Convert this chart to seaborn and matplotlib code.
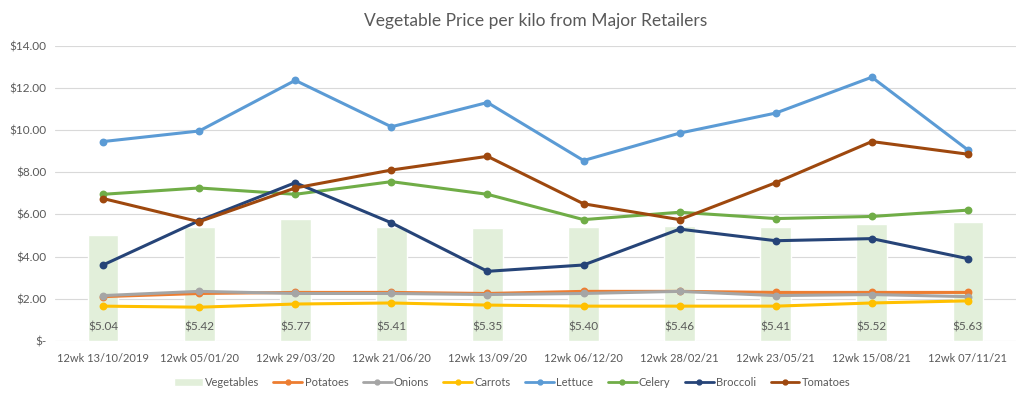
import matplotlib
matplotlib.use('Agg')
import matplotlib.pyplot as plt
from matplotlib.lines import Line2D
from matplotlib.patches import Patch
import pandas as pd
import seaborn as sns

periods = ['12wk 13/10/2019', '12wk 05/01/20', '12wk 29/03/20', '12wk 21/06/20', '12wk 13/09/20',
           '12wk 06/12/20', '12wk 28/02/21', '12wk 23/05/21', '12wk 15/08/21', '12wk 07/11/21']
vegetables = [5.04, 5.42, 5.77, 5.41, 5.35, 5.40, 5.46, 5.41, 5.52, 5.63]
potatoes = [2.10, 2.25, 2.30, 2.30, 2.25, 2.35, 2.35, 2.30, 2.30, 2.30]
onions = [2.15, 2.35, 2.25, 2.25, 2.20, 2.25, 2.35, 2.15, 2.20, 2.10]
carrots = [1.65, 1.60, 1.75, 1.80, 1.70, 1.65, 1.65, 1.65, 1.80, 1.90]
lettuce = [9.45, 9.95, 12.35, 10.15, 11.30, 8.55, 9.85, 10.80, 12.50, 9.05]
celery = [6.95, 7.25, 6.95, 7.55, 6.95, 5.75, 6.10, 5.80, 5.90, 6.20]
broccoli = [3.60, 5.70, 7.50, 5.60, 3.30, 3.60, 5.30, 4.75, 4.85, 3.90]
tomatoes = [6.75, 5.65, 7.25, 8.10, 8.75, 6.50, 5.75, 7.50, 9.45, 8.85]

series = {'Potatoes': potatoes, 'Onions': onions, 'Carrots': carrots, 'Lettuce': lettuce,
          'Celery': celery, 'Broccoli': broccoli, 'Tomatoes': tomatoes}
colors = {'Potatoes': '#ED7D31', 'Onions': '#A5A5A5', 'Carrots': '#FFC000', 'Lettuce': '#5B9BD5',
          'Celery': '#70AD47', 'Broccoli': '#264478', 'Tomatoes': '#9E480E'}
bar_color = '#E2EFDA'

sns.set_style('white')
plt.rcParams['font.family'] = ['Lato', 'DejaVu Sans']

bars = pd.DataFrame({'period': periods, 'price': vegetables})
lines = pd.concat([pd.DataFrame({'period': periods, 'price': v, 'veg': k}) for k, v in series.items()])

fig = plt.figure(figsize=(10.24, 3.96), dpi=100)
ax = fig.add_axes([0.0537, 0.139, 0.9385, 0.746])

sns.barplot(data=bars, x='period', y='price', color=bar_color, saturation=1, width=0.32, ax=ax, zorder=1)
for i, v in enumerate(vegetables):
    ax.text(i, 0.66, f'${v:.2f}', ha='center', va='center', fontsize=8.5, color='#595959', zorder=5)

sns.pointplot(data=lines, x='period', y='price', hue='veg', palette=colors, markers='o',
              markersize=4, linewidth=2.2, ax=ax, legend=False, zorder=3)

ax.set_ylim(0, 14)
ax.set_xlim(-0.5, 9.5)
ax.set_yticks(range(0, 15, 2))
ax.set_yticklabels(['$-'] + [f'${v:.2f}' for v in range(2, 15, 2)])
ax.yaxis.grid(True, color='#D9D9D9', linewidth=0.8)
ax.set_axisbelow(True)
for s in ax.spines.values():
    s.set_visible(False)
ax.tick_params(axis='both', length=0, labelsize=8, colors='#595959', pad=6)
ax.tick_params(axis='x', pad=9)
ax.tick_params(axis='y', labelsize=8.5)
ax.set_xlabel('')
ax.set_ylabel('')
ax.set_title('Vegetable Price per kilo from Major Retailers', fontsize=12.5, color='#595959', pad=14)

handles = [Patch(facecolor=bar_color, label='Vegetables')]
handles += [Line2D([], [], color=colors[k], marker='o', markersize=3.5, linewidth=2, label=k) for k in series]
fig.legend(handles=handles, loc='lower center', bbox_to_anchor=(0.5, -0.005), ncol=8, frameon=False,
           fontsize=8, labelcolor='#595959', handlelength=2.6, handletextpad=0.2, columnspacing=1.3)

fig.savefig('out.png', dpi=100)
